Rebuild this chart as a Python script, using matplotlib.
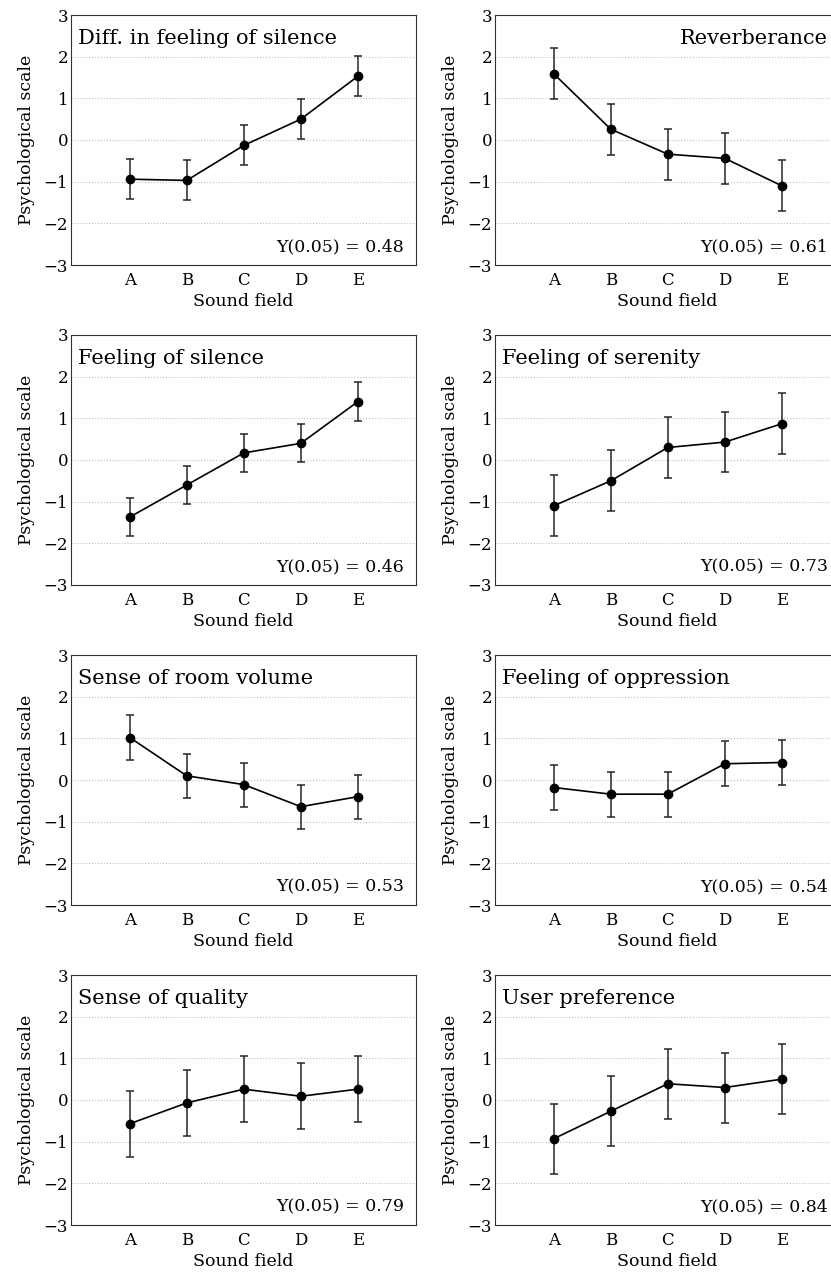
import numpy as np
import matplotlib
matplotlib.use("Agg")
import matplotlib.pyplot as plt

plt.rcParams['font.family'] = 'DejaVu Serif'

fields = ['A', 'B', 'C', 'D', 'E']

titles = ['Diff. in feeling of silence', 'Reverberance',
          'Feeling of silence', 'Feeling of serenity',
          'Sense of room volume', 'Feeling of oppression',
          'Sense of quality', 'User preference']

diff_silence = [-0.94, -0.97, -0.13, 0.50, 1.53]
reverberance = [1.59, 0.26, -0.34, -0.44, -1.10]
silence = [-1.37, -0.60, 0.17, 0.40, 1.40]
serenity = [-1.10, -0.50, 0.30, 0.43, 0.87]
room_volume = [1.02, 0.10, -0.11, -0.64, -0.40]
oppression = [-0.18, -0.34, -0.34, 0.39, 0.42]
quality = [-0.57, -0.07, 0.26, 0.09, 0.26]
preference = [-0.93, -0.27, 0.39, 0.30, 0.50]

# Y(0.05) yardstick, also used as error bar half-width
yardsticks = [0.48, 0.61, 0.46, 0.73, 0.53, 0.54, 0.79, 0.84]

series = [diff_silence, reverberance, silence, serenity,
          room_volume, oppression, quality, preference]

W, H = 831, 1275
fig = plt.figure(figsize=(W / 100, H / 100), dpi=100)

x = np.arange(len(fields))
for i, (name, vals, ys) in enumerate(zip(titles, series, yardsticks)):
    row, col = divmod(i, 2)
    left = 71 if col == 0 else 495
    bottom = 265 + 320 * row
    ax = fig.add_axes([left / W, 1 - bottom / H, 345 / W, 250 / H])
    ax.errorbar(x, vals, yerr=ys, fmt='-o', color='k', ecolor='0.15',
                elinewidth=1.1, capsize=3, capthick=1.1, lw=1.2, ms=6)
    ax.set_xlim(-1.03, 5.02)
    ax.set_ylim(-3, 3)
    ax.set_xticks(x)
    ax.set_xticklabels(fields)
    ax.set_yticks(range(-3, 4))
    ax.tick_params(length=0, labelsize=12)
    ax.tick_params(axis='y', pad=2)
    ax.tick_params(axis='x', pad=5)
    ax.yaxis.grid(True, linestyle=':', color='0.75', lw=0.8)
    ax.set_axisbelow(True)
    for s in ax.spines.values():
        s.set_color('0.2')
    ax.set_xlabel('Sound field', fontsize=12.5, labelpad=3)
    ax.set_ylabel('Psychological scale', fontsize=12.5, labelpad=6)
    if name == 'Reverberance':
        ax.text(0.965, 0.905, name, transform=ax.transAxes, ha='right',
                va='center', fontsize=15)
    else:
        ax.text(0.02, 0.905, name, transform=ax.transAxes, ha='left',
                va='center', fontsize=15)
    ax.text(0.965, 0.04, 'Y(0.05) = {:.2f}'.format(ys), transform=ax.transAxes,
            ha='right', va='bottom', fontsize=12.5)

fig.savefig('out.png', dpi=100)
